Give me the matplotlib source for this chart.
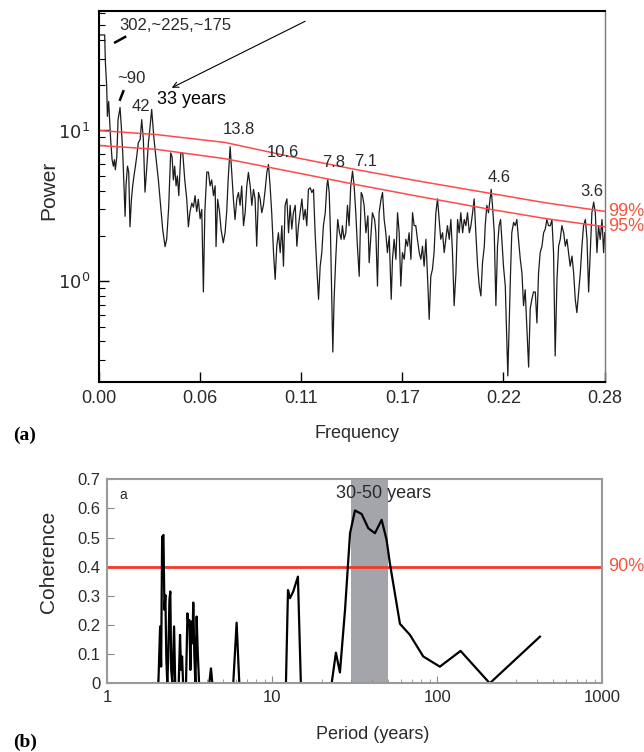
import numpy as np
import matplotlib.pyplot as plt
from matplotlib.ticker import FixedLocator, FixedFormatter, LogLocator, NullFormatter

plt.rcParams['font.family'] = ['Liberation Sans', 'DejaVu Sans']

# ------------------------------------------------------------- (a) widmo mocy
freq = [0.0000, 0.0004, 0.0018, 0.0034, 0.0038, 0.0045, 0.0049, 0.0056, 0.0067, 0.0075,
        0.0082, 0.0088, 0.0093, 0.0101, 0.0108, 0.0119, 0.0126, 0.0134, 0.0141, 0.0147,
        0.0152, 0.0160, 0.0167, 0.0174, 0.0182, 0.0189, 0.0196, 0.0204, 0.0211, 0.0220,
        0.0230, 0.0239, 0.0248, 0.0257, 0.0266, 0.0276, 0.0285, 0.0294, 0.0307, 0.0315,
        0.0331, 0.0344, 0.0355, 0.0368, 0.0377, 0.0388, 0.0399, 0.0407, 0.0414, 0.0421,
        0.0429, 0.0436, 0.0444, 0.0455, 0.0466, 0.0477, 0.0488, 0.0497, 0.0506, 0.0516,
        0.0525, 0.0534, 0.0543, 0.0552, 0.0562, 0.0571, 0.0580, 0.0588, 0.0599, 0.0608,
        0.0617, 0.0626, 0.0636, 0.0645, 0.0650, 0.0659, 0.0669, 0.0678, 0.0690, 0.0700,
        0.0709, 0.0717,
        0.0728, 0.0737, 0.0746, 0.0755, 0.0765, 0.0774, 0.0783, 0.0792, 0.0802, 0.0811,
        0.0820, 0.0829, 0.0839, 0.0848, 0.0857, 0.0866, 0.0875, 0.0885, 0.0894, 0.0903,
        0.0912, 0.0922, 0.0931, 0.0940, 0.0949, 0.0958, 0.0968, 0.0977, 0.0986, 0.0995,
        0.1005, 0.1014, 0.1023, 0.1032, 0.1042, 0.1051, 0.1060, 0.1069, 0.1078, 0.1088,
        0.1097, 0.1106, 0.1115, 0.1125, 0.1134, 0.1143, 0.1152, 0.1161, 0.1171, 0.1180,
        0.1189, 0.1198, 0.1207, 0.1217, 0.1226, 0.1235, 0.1244, 0.1254, 0.1263, 0.1268,
        0.1276, 0.1283, 0.1290, 0.1296, 0.1303, 0.1312, 0.1323, 0.1333, 0.1342, 0.1349,
        0.1358, 0.1368, 0.1377, 0.1386, 0.1395, 0.1405, 0.1414, 0.1423, 0.1432, 0.1442,
        0.1453, 0.1460, 0.1469, 0.1479, 0.1490, 0.1497, 0.1508, 0.1515, 0.1527, 0.1534,
        0.1543, 0.1552, 0.1563, 0.1571, 0.1580, 0.1589, 0.1598, 0.1608, 0.1619, 0.1626,
        0.1635, 0.1645, 0.1654, 0.1663, 0.1672, 0.1681, 0.1691, 0.1700, 0.1709, 0.1718,
        0.1728, 0.1737, 0.1746, 0.1755, 0.1764, 0.1774, 0.1783, 0.1792, 0.1801, 0.1811,
        0.1822, 0.1829, 0.1838, 0.1847, 0.1856, 0.1866, 0.1875, 0.1884, 0.1893, 0.1903,
        0.1912, 0.1921, 0.1930, 0.1940, 0.1949, 0.1958, 0.1967, 0.1977, 0.1986, 0.1995,
        0.2004, 0.2014, 0.2023, 0.2032, 0.2041, 0.2051, 0.2060, 0.2069, 0.2078, 0.2087,
        0.2097, 0.2106, 0.2115, 0.2124, 0.2134,
        0.2139, 0.2148, 0.2157, 0.2166, 0.2172, 0.2179, 0.2189, 0.2198, 0.2207, 0.2216,
        0.2224, 0.2231, 0.2240, 0.2250, 0.2259, 0.2264, 0.2272, 0.2279, 0.2286, 0.2296,
        0.2305, 0.2314, 0.2323, 0.2333, 0.2342, 0.2351, 0.2360, 0.2369, 0.2379, 0.2388,
        0.2397, 0.2406, 0.2416, 0.2425, 0.2434, 0.2443, 0.2453, 0.2462, 0.2471, 0.2480,
        0.2489, 0.2499, 0.2508, 0.2517, 0.2526, 0.2536, 0.2545, 0.2554, 0.2563, 0.2573,
        0.2582, 0.2591, 0.2600, 0.2609, 0.2619, 0.2628, 0.2637, 0.2646, 0.2656, 0.2665,
        0.2674, 0.2683, 0.2693, 0.2702, 0.2711, 0.2720, 0.2729, 0.2739, 0.2748, 0.2757,
        0.2766, 0.2775, 0.2785, 0.2794, 0.2800]
power = [34.0, 43.0, 43.0, 43.0, 28.0, 19.7, 12.4, 15.6, 8.7, 6.4,
         5.8, 6.4, 5.5, 6.7, 11.8, 14.2, 10.6, 7.1, 4.3, 2.7,
         4.3, 5.8, 5.3, 2.3, 3.5, 4.3, 5.0, 5.8, 6.7, 8.3,
         8.7, 11.8, 8.7, 3.9, 5.5, 8.3, 10.6, 13.8, 8.7, 7.1,
         4.7, 3.1, 2.2, 1.7, 1.9, 3.1, 7.1, 6.7, 4.7, 5.8,
         4.3, 5.0, 3.7, 7.1, 7.1, 4.7, 3.5, 2.3, 2.9, 3.3,
         3.1, 3.7, 2.9, 3.5, 2.6, 3.0, 0.85, 2.9, 5.3, 5.3,
         4.3, 4.7, 3.7, 4.3, 1.7, 3.5, 2.9, 2.2, 1.8, 2.1,
         2.9, 4.7,
         7.8, 5.27, 3.52, 2.57, 3.52, 3.88, 3.19, 4.28, 2.34, 2.85,
         4.28, 5.27, 4.28, 3.19, 4.07, 3.52, 1.71, 3.88, 3.52, 2.85,
         3.19, 4.07, 5.27, 5.95, 4.28, 2.85, 1.55, 1.03, 1.71, 2.10,
         1.55, 2.34, 1.26, 3.19, 3.52, 2.10, 3.19, 2.22, 2.85, 3.19,
         1.71, 2.34, 2.85, 3.52, 2.57, 3.0, 2.34, 4.07, 4.17, 3.88,
         4.07, 2.10, 1.26, 0.76, 1.26, 1.55, 2.34, 2.85, 4.28, 4.73,
         3.88, 2.10, 0.76, 0.34, 0.76, 1.40, 2.57, 2.10, 1.90, 2.34,
         1.90, 2.10, 3.19, 2.34, 4.28, 5.38, 4.28, 2.85, 1.71, 1.08,
         3.88, 3.70, 3.19, 2.10, 2.72, 1.33, 2.10, 2.85, 2.57, 2.10,
         0.93, 2.85, 3.52, 3.88, 2.57, 2.10, 1.55, 2.0, 0.76, 1.40,
         1.90, 1.40, 2.85, 2.10, 0.93, 1.55, 1.40, 1.90, 1.71, 2.10,
         1.40, 2.85, 2.34, 2.34, 1.90, 1.55, 1.40, 1.71, 1.26, 1.90,
         0.93, 0.56, 1.08, 1.2, 1.55, 2.85, 3.52, 2.57, 1.90, 2.10,
         1.55, 1.90, 2.34, 1.90, 2.57, 1.55, 0.69, 1.14, 2.57, 2.10,
         2.85, 2.10, 2.57, 2.34, 2.85, 2.10, 2.34, 2.85, 3.52, 2.10,
         1.26, 0.93, 0.80, 1.33, 1.71,
         2.34, 3.19, 2.85, 3.52, 4.07, 3.19, 2.10, 0.69, 1.71, 2.34,
         2.57, 1.90, 1.26, 0.93, 0.37, 0.236, 0.56, 1.14, 2.10, 2.46,
         2.34, 2.57, 1.90, 1.40, 1.14, 0.69, 0.88, 0.50, 0.27, 0.66,
         0.76, 0.85, 0.85, 0.53, 1.14, 1.55, 1.71, 2.10, 2.22, 2.57,
         2.34, 2.34, 2.57, 1.55, 0.32, 1.03, 1.71, 1.90, 2.34, 2.10,
         1.71, 1.90, 1.55, 1.26, 1.47, 1.14, 0.76, 0.62, 0.85, 1.14,
         1.71, 2.34, 2.57, 1.90, 0.85, 1.55, 2.85, 3.35, 2.85, 1.55,
         2.34, 1.90, 2.57, 1.55, 2.10]

# progi istotności
lim_freq = [0.0, 0.032, 0.070, 0.105, 0.142, 0.178, 0.214, 0.247, 0.280]
lim99 = [10.0, 9.4, 8.33, 6.76, 5.52, 4.6, 3.88, 3.32, 2.91]
lim95 = [7.96, 7.5, 6.5, 5.38, 4.39, 3.64, 3.04, 2.61, 2.30]

# etykiety okresów: tekst, częstotliwość, moc
peak_labels = [("13.8", 0.0778, 10.2), ("10.6", 0.102, 7.15), ("7.8", 0.130, 6.1),
               ("7.1", 0.148, 6.2), ("4.6", 0.2216, 4.9), ("3.6", 0.2726, 3.95)]

# ------------------------------------------------------------- (b) koherencja
period = [1.0, 2.04, 2.09, 2.12, 2.15, 2.19, 2.22, 2.25, 2.28, 2.31,
          2.34, 2.38, 2.41, 2.44, 2.48, 2.54, 2.58, 2.71, 2.76, 2.80,
          2.84, 2.88, 3.00, 3.06, 3.10, 3.14, 3.19, 3.23, 3.28, 3.32,
          3.37, 3.42, 3.48, 3.53, 3.60, 4.15, 4.25, 4.33, 5.80, 6.08,
          6.31, 12.1, 12.45, 12.8, 13.4, 14.3, 14.9, 22.9, 24.3, 25.7,
          27.6, 29.6, 31.7, 34.8, 38.2, 41.9, 46.0, 49.3, 51.6, 59.4,
          68.3, 82.2, 103.7, 138.4, 208.0, 419.0]
coherence = [0.0, 0.0, 0.195, 0.057, 0.503, 0.509, 0.252, 0.303, 0.08, 0.0,
             0.08, 0.286, 0.315, 0.046, 0.0, 0.195, 0.0, 0.0, 0.166, 0.046,
             0.092, 0.0, 0.0, 0.24, 0.206, 0.217, 0.046, 0.212, 0.137, 0.277,
             0.092, 0.0, 0.229, 0.114, 0.0, 0.0, 0.051, 0.0, 0.0, 0.208,
             0.0, 0.0, 0.32, 0.292, 0.315, 0.366, 0.0, 0.0, 0.105, 0.037,
             0.252, 0.515, 0.593, 0.581, 0.532, 0.515, 0.561, 0.492, 0.412, 0.204,
             0.166, 0.092, 0.057, 0.111, 0.0, 0.16]

# ------------------------------------------------------------- Rysunek
RED = '#f2553c'
TXT = '#2a2a2a'
fig = plt.figure(figsize=(6.44, 7.52), dpi=100)

ax1 = fig.add_axes([0.153, 0.492, 0.786, 0.4934])
ax1.plot(freq, power, color='#1c1c1c', lw=0.9)
ax1.plot(lim_freq, lim99, color='#ff4a4a', lw=1.1)
ax1.plot(lim_freq, lim95, color='#ff4a4a', lw=1.1)
ax1.set_yscale('log')
ax1.set_xlim(0, 0.28)
ax1.set_ylim(0.215, 62)
ax1.xaxis.set_major_locator(FixedLocator([0.0, 0.056, 0.112, 0.168, 0.224, 0.28]))
ax1.xaxis.set_major_formatter(FixedFormatter(['0.00', '0.06', '0.11', '0.17', '0.22', '0.28']))
ax1.yaxis.set_major_locator(FixedLocator([1, 10]))
ax1.yaxis.set_major_formatter(FixedFormatter([r'$10^0$', r'$10^1$']))
ax1.yaxis.set_minor_locator(LogLocator(base=10, subs=np.arange(2, 10)))
ax1.yaxis.set_minor_formatter(NullFormatter())
ax1.tick_params(which='both', direction='in', top=False, right=False,
                labelsize=13, labelcolor=TXT, pad=6)
ax1.tick_params(which='major', length=7, width=1)
ax1.tick_params(which='minor', length=4, width=0.8)
for s in ax1.spines.values():
    s.set_linewidth(1.5)
ax1.spines['right'].set_color('#777777')
ax1.spines['right'].set_linewidth(1.0)
ax1.set_ylabel('Power', fontsize=15, color=TXT)
ax1.yaxis.set_label_coords(-0.080, 0.517)
ax1.set_xlabel('Frequency', fontsize=13, color=TXT)
ax1.xaxis.set_label_coords(0.511, -0.116)

ax1.text(0.0113, 50, '302,~225,~175', fontsize=12, color=TXT, ha='left', va='center')
ax1.plot([0.0092, 0.0147], [38.4, 41.7], color='k', lw=1.8)
ax1.text(0.0102, 22.1, '~90', fontsize=12, color=TXT, ha='left', va='center')
ax1.plot([0.0119, 0.0137], [16.0, 18.2], color='k', lw=1.8)
ax1.text(0.0235, 14.4, '42', fontsize=12, color=TXT, ha='center', va='center')
ax1.text(0.0322, 16.0, '33 years', fontsize=13, color='black', ha='left', va='center',
         family=['Liberation Sans Narrow', 'Liberation Sans'])
ax1.annotate('', xy=(0.0405, 19.2), xytext=(0.1143, 53),
             arrowprops=dict(arrowstyle='->', lw=0.8, color='black', shrinkA=0, shrinkB=0))
for txt, fx, py in peak_labels:
    ax1.text(fx, py, txt, fontsize=12, color=TXT, ha='center', va='center')
ax1.text(1.007, lim99[-1], '99%', transform=ax1.get_yaxis_transform(), fontsize=13,
         color=RED, ha='left', va='center', clip_on=False)
ax1.text(1.007, lim95[-1], '95%', transform=ax1.get_yaxis_transform(), fontsize=13,
         color=RED, ha='left', va='center', clip_on=False)

ax2 = fig.add_axes([0.1666, 0.0914, 0.7686, 0.2712])
ax2.axvspan(30, 50, color='#a4a4ab', lw=0)
ax2.axhline(0.4, color='#f23a28', lw=2)
ax2.plot(period, coherence, color='black', lw=1.6)
ax2.set_xscale('log')
ax2.set_xlim(1, 1000)
ax2.set_ylim(0, 0.7)
ax2.xaxis.set_major_locator(FixedLocator([1, 10, 100, 1000]))
ax2.xaxis.set_major_formatter(FixedFormatter(['1', '10', '100', '1000']))
ax2.xaxis.set_minor_formatter(NullFormatter())
ax2.yaxis.set_major_locator(FixedLocator([0, 0.1, 0.2, 0.3, 0.4, 0.5, 0.6, 0.7]))
ax2.yaxis.set_major_formatter(FixedFormatter(['0', '0.1', '0.2', '0.3', '0.4', '0.5', '0.6', '0.7']))
ax2.tick_params(which='both', direction='in', top=False, right=False,
                labelsize=12, labelcolor=TXT, color='#888888', pad=5)
ax2.tick_params(which='major', length=5)
ax2.tick_params(which='minor', length=3)
for s in ax2.spines.values():
    s.set_color('#9a9a9a')
    s.set_linewidth(1.5)
ax2.set_ylabel('Coherence', fontsize=15, color=TXT)
ax2.yaxis.set_label_coords(-0.100, 0.595)
ax2.set_xlabel('Period (years)', fontsize=13, color=TXT)
ax2.xaxis.set_label_coords(0.537, -0.209)
ax2.text(47.5, 0.652, '30-50 years', fontsize=13, color=TXT, ha='center', va='center')
ax2.text(1.25, 0.646, 'a', fontsize=10, color=TXT, ha='center', va='center')
ax2.text(1.011, 0.4, '90%', transform=ax2.get_yaxis_transform(), fontsize=13,
         color=RED, ha='left', va='center', clip_on=False)

fig.text(25 / 644, 1 - 435 / 752, '(a)', fontsize=14, fontweight='bold',
         family='Liberation Serif', ha='center', va='center')
fig.text(25 / 644, 1 - 742 / 752, '(b)', fontsize=14, fontweight='bold',
         family='Liberation Serif', ha='center', va='center')

fig.savefig('out.png', dpi=100)
